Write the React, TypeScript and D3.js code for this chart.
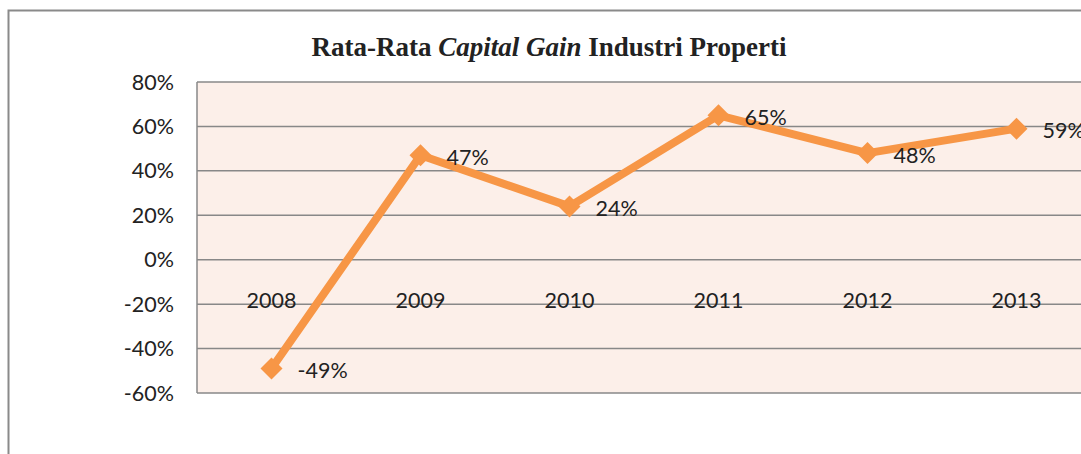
import React from "react";
import * as d3 from "d3";

const years = ["2008", "2009", "2010", "2011", "2012", "2013"];
const gains = [-49, 47, 24, 65, 48, 59];
const yTicks = [80, 60, 40, 20, 0, -20, -40, -60];

export default function App() {
  const W = 1081, H = 454;
  const left = 197, top = 82, bottom = 393;
  const band = 149;
  const x = d3.scalePoint<string>().domain(years).range([left + band / 2, left + band * 5.5]);
  const y = d3.scaleLinear().domain([-60, 80]).range([bottom, top]);
  const line = d3.line<number>().x((_, i) => x(years[i])!).y((d) => y(d));
  const orange = "#F79646";
  const font = "Lato, 'Open Sans', sans-serif";
  const fs = 21.5;
  return (
    <svg width={W} height={H} style={{ position: "absolute", left: 0, top: 0 }}>
      <rect x={0} y={0} width={W} height={H} fill="#fff" />
      <path d={`M8.5,${H} V10.5 H${W}`} fill="none" stroke="#8a8a8a" strokeWidth={2} />
      <text x={549} y={56} textAnchor="middle" fontFamily="'Liberation Serif', serif" fontWeight="bold" fontSize={27} fill="#222">
        Rata-Rata <tspan fontStyle="italic">Capital Gain</tspan> Industri Properti
      </text>
      <rect x={left} y={top} width={W - left} height={bottom - top} fill="#FCEFE9" />
      {yTicks.map((t) => (
        <g key={t}>
          <line x1={left} x2={W} y1={y(t)} y2={y(t)} stroke="#888" strokeWidth={1.5} />
          <text x={174} y={y(t)} dy="0.35em" textAnchor="end" fontFamily={font} fontSize={fs} fill="#222">
            {t}%
          </text>
        </g>
      ))}
      <line x1={left} x2={left} y1={top} y2={bottom} stroke="#888" strokeWidth={1.5} />
      {years.map((yr) => (
        <text key={yr} x={x(yr)} y={y(-20) - 4} dy="0.35em" textAnchor="middle" fontFamily={font} fontSize={fs} fill="#222">
          {yr}
        </text>
      ))}
      <path d={line(gains)!} fill="none" stroke={orange} strokeWidth={8} strokeLinejoin="round" />
      {gains.map((v, i) => {
        const cx = x(years[i])!, cy = y(v);
        return (
          <g key={i}>
            <path d={`M${cx},${cy - 11} L${cx + 11},${cy} L${cx},${cy + 11} L${cx - 11},${cy} Z`} fill={orange} />
            <text x={cx + 26} y={cy + 2} dy="0.35em" fontFamily={font} fontSize={fs} fill="#222">
              {v}%
            </text>
          </g>
        );
      })}
    </svg>
  );
}
